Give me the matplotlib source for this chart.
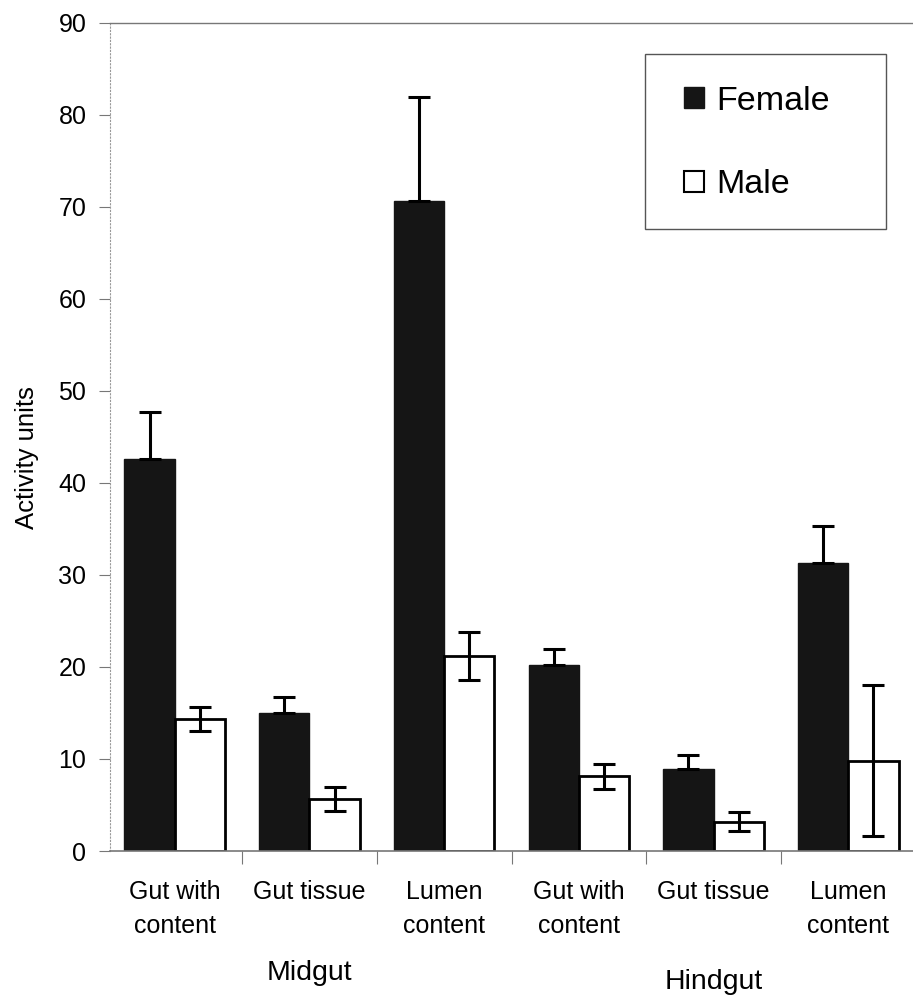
import numpy as np
import matplotlib
matplotlib.use("Agg")
import matplotlib.pyplot as plt
from matplotlib.patches import Patch, Rectangle

plt.rcParams['font.family'] = ['Liberation Sans', 'DejaVu Sans']

# data
tissues = ["Gut with\ncontent", "Gut tissue", "Lumen\ncontent",
           "Gut with\ncontent", "Gut tissue", "Lumen\ncontent"]
regions = ["Midgut", "Hindgut"]
female = [42.6, 15.0, 70.7, 20.2, 8.9, 31.3]
female_err = [5.1, 1.7, 11.3, 1.8, 1.5, 4.0]
male = [14.3, 5.7, 21.2, 8.1, 3.2, 9.8]
male_err = [1.3, 1.3, 2.6, 1.4, 1.0, 8.2]

W, H = 913, 997
fig = plt.figure(figsize=(W / 100, H / 100), dpi=100)
ax = fig.add_axes([110 / W, 146 / H, (W - 110) / W, (851 - 23) / H])

x = np.arange(len(tissues))
bw = 0.373
dark = '#151515'

ax.bar(x - bw / 2, female, bw, color=dark, edgecolor=dark,
       linewidth=1, zorder=2)
ax.bar(x + bw / 2, male, bw, color='white', edgecolor='black',
       linewidth=2, zorder=2)

ax.errorbar(x - bw / 2, female, yerr=[np.zeros(len(female)), female_err],
            fmt='none', ecolor='black', elinewidth=2.2, capsize=8,
            capthick=2.2, zorder=3)
ax.errorbar(x + bw / 2, male, yerr=male_err, fmt='none', ecolor='black',
            elinewidth=2.2, capsize=8, capthick=2.2, zorder=3)

ax.set_xlim(-0.48, 5.48)
ax.set_ylim(0, 90)
ax.set_yticks(np.arange(0, 91, 10))
ax.tick_params(axis='y', labelsize=18, length=8, color='#777777', pad=9)

# category boundaries as ticks, labels at centres
ax.set_xticks(np.arange(0.5, 5.5, 1.0))
ax.set_xticklabels([])
ax.tick_params(axis='x', length=9, color='#777777')
for xi, lab in zip(x, tissues):
    ax.text(xi, -3.2, lab, ha='center', va='top', fontsize=18,
            linespacing=1.5)
ax.text(1, -11.8, regions[0], ha='center', va='top', fontsize=20.5)
ax.text(4, -12.8, regions[1], ha='center', va='top', fontsize=20.5)

fig.text(27 / W, 1 - 458 / H, 'Activity units', fontsize=18.5,
         rotation=90, ha='center', va='center')

ax.spines['right'].set_visible(False)
ax.spines['top'].set_color('#777777')
ax.spines['top'].set_linewidth(1)
ax.spines['left'].set_color('#999999')
ax.spines['left'].set_linestyle((0, (1, 2)))
ax.spines['bottom'].set_color('#777777')
ax.spines['bottom'].set_linewidth(1.2)
ax.spines['bottom'].set_linestyle((0, (3, 1)))

# legend box
fig.patches.append(Rectangle((645 / W, 1 - 229 / H), (886 - 645) / W,
                             (229 - 54) / H, transform=fig.transFigure,
                             facecolor='white', edgecolor='#555555',
                             linewidth=1, zorder=5))
handles = [Patch(facecolor=dark, edgecolor=dark, label='Female'),
           Patch(facecolor='white', edgecolor='black', linewidth=1.5, label='Male')]
leg = fig.legend(handles=handles, loc='center left',
                 bbox_to_anchor=(684 / W, 1 - 143 / H),
                 fontsize=24.5, frameon=False,
                 handlelength=0.6, handleheight=0.6, handletextpad=0.35,
                 labelspacing=1.55, borderpad=0, borderaxespad=0)
leg.set_zorder(6)

fig.savefig('out.png', dpi=100)
